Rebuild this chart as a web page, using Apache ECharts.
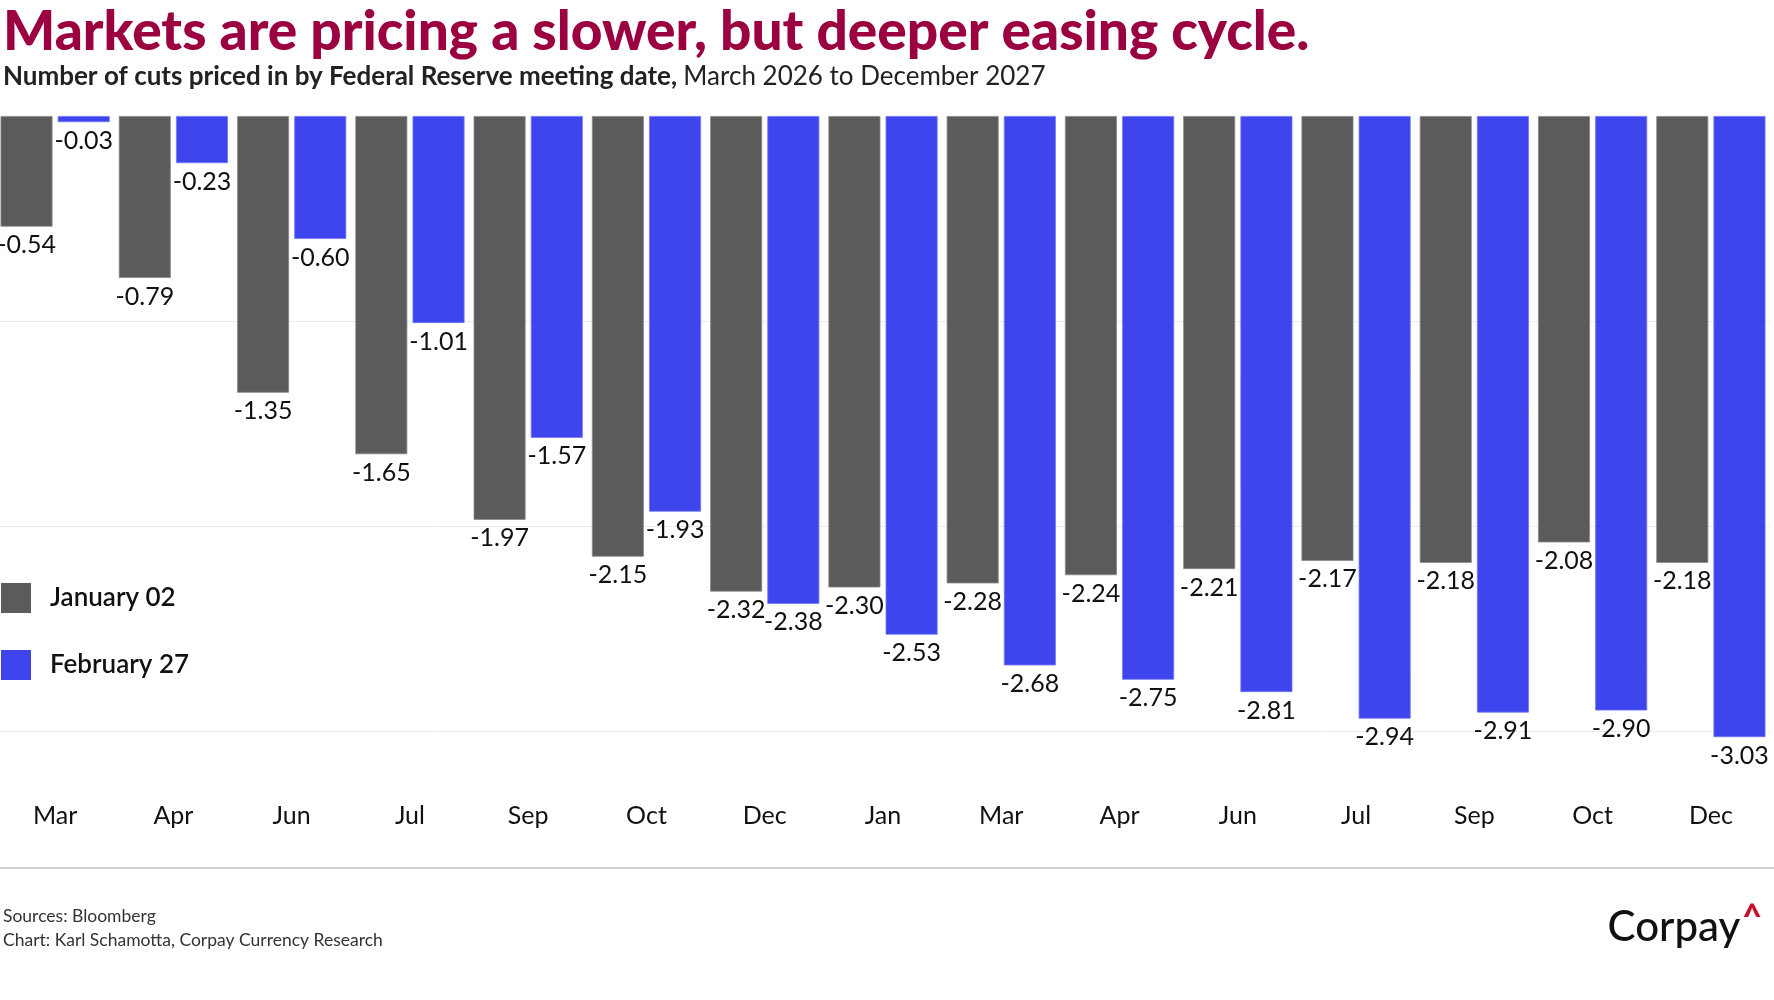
<!DOCTYPE html>
<html>
<head>
<meta charset="utf-8">
<script src="https://cdn.jsdelivr.net/npm/echarts@6/dist/echarts.min.js"></script>
<style>
html,body{margin:0;padding:0;background:#fff;overflow:hidden;}
#wrap{position:absolute;left:0;top:0;width:1774px;height:1000px;background:#fff;}
#chart{position:absolute;left:-4px;top:0;width:1778px;height:1000px;}
</style>
</head>
<body>
<div id="wrap"><div id="chart"></div></div>
<script>
const categories = ['Mar','Apr','Jun','Jul','Sep','Oct','Dec','Jan','Mar','Apr','Jun','Jul','Sep','Oct','Dec'];
const january02 = [-0.54,-0.79,-1.35,-1.65,-1.97,-2.15,-2.32,-2.30,-2.28,-2.24,-2.21,-2.17,-2.18,-2.08,-2.18];
const february27 = [-0.03,-0.23,-0.60,-1.01,-1.57,-1.93,-2.38,-2.53,-2.68,-2.75,-2.81,-2.94,-2.91,-2.90,-3.03];
const seriesNames = ['January 02','February 27'];

const FONT = 'Lato, "Noto Sans", sans-serif';
const OFF = 4; // container is shifted 4px left
const chart = echarts.init(document.getElementById('chart'), null, {renderer:'canvas'});

const labelCfg = {
  show: true,
  position: 'bottom',
  distance: 6,
  fontFamily: FONT,
  fontSize: 25,
  color: '#111',
  formatter: p => p.value.toFixed(2)
};

chart.setOption({
  backgroundColor: '#fff',
  animation: false,
  grid: { left: 0, right: 4, top: 116, bottom: 269, containLabel: false },
  legend: {
    orient: 'vertical',
    left: 1 + OFF,
    top: 583,
    padding: 0,
    itemWidth: 30,
    itemHeight: 30,
    itemGap: 37,
    icon: 'rect',
    itemStyle: { borderWidth: 0 },
    textStyle: { fontFamily: FONT, fontSize: 26, fontWeight: 600, color: '#111', padding: [0,0,0,14] },
    data: seriesNames
  },
  xAxis: {
    type: 'category',
    data: categories,
    position: 'bottom',
    axisLine: { show: false, onZero: false },
    axisTick: { show: false },
    axisLabel: { margin: 72, fontFamily: FONT, fontSize: 25, color: '#111' }
  },
  yAxis: {
    type: 'value',
    min: -3,
    max: 0,
    interval: 1,
    axisLabel: { show: false },
    axisLine: { show: false },
    axisTick: { show: false },
    splitLine: { show: true, showMaxLine: false, lineStyle: { color: '#ececec', width: 1 } }
  },
  series: [
    {
      name: seriesNames[0],
      type: 'bar',
      data: january02,
      barWidth: 52,
      barGap: '10%',
      clip: false,
      itemStyle: { color: '#5b5b5b', borderColor: '#8a8a8a', borderWidth: 0.8 },
      label: labelCfg
    },
    {
      name: seriesNames[1],
      type: 'bar',
      data: february27,
      barWidth: 52,
      barGap: '10%',
      clip: false,
      itemStyle: { color: '#3f45ec', borderColor: '#7177f3', borderWidth: 0.8 },
      label: labelCfg
    }
  ],
  graphic: [
    {
      type: 'text', left: 3 + OFF, top: 5,
      style: { text: 'Markets are pricing a slower, but deeper easing cycle.', fontFamily: FONT, fontSize: 55, fontWeight: 900, fill: '#9b0040' }
    },
    {
      type: 'text', left: 3 + OFF, top: 64,
      style: {
        text: '{b|Number of cuts priced in by Federal Reserve meeting date, }{r|March 2026 to December 2027}',
        rich: {
          b: { fontFamily: FONT, fontSize: 26, fontWeight: 700, fill: '#222' },
          r: { fontFamily: FONT, fontSize: 26, fontWeight: 400, fill: '#222' }
        }
      }
    },
    {
      type: 'line', shape: { x1: 0, y1: 868, x2: 1778, y2: 868 },
      style: { stroke: '#cfcfcf', lineWidth: 2 }
    },
    {
      type: 'text', left: 3 + OFF, top: 907,
      style: { text: 'Sources: Bloomberg', fontFamily: FONT, fontSize: 17.5, fill: '#333' }
    },
    {
      type: 'text', left: 3 + OFF, top: 931,
      style: { text: 'Chart: Karl Schamotta, Corpay Currency Research', fontFamily: FONT, fontSize: 17.5, fill: '#333' }
    },
    {
      type: 'text', right: 12, top: 901,
      style: {
        text: '{c|Corpay}{k|^}',
        rich: {
          c: { fontFamily: FONT, fontSize: 42, fontWeight: 500, fill: '#111' },
          k: { fontFamily: FONT, fontSize: 34, fontWeight: 900, fill: '#c8102e', verticalAlign: 'top', padding: [0,0,18,2] }
        }
      }
    }
  ]
});
</script>
</body>
</html>
